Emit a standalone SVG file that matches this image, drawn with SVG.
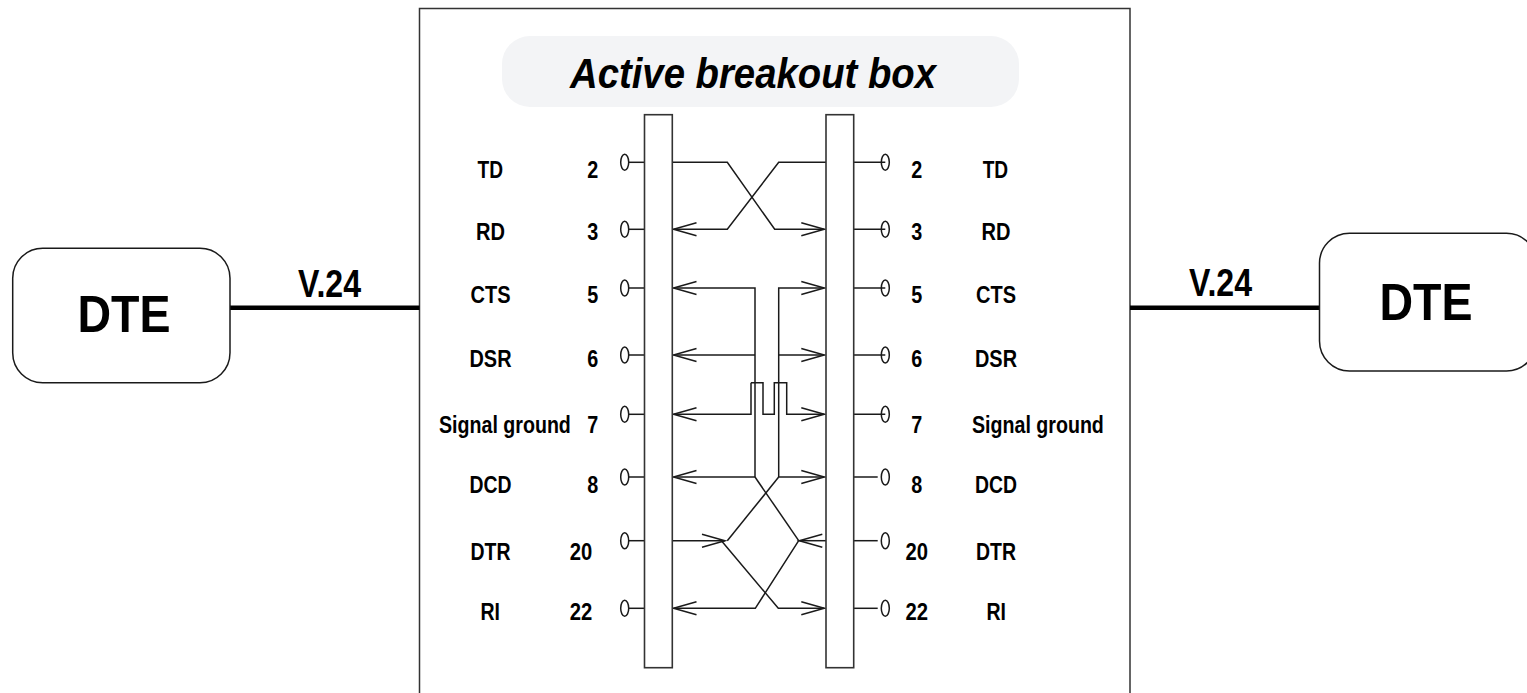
<svg xmlns="http://www.w3.org/2000/svg" width="1527" height="693" viewBox="0 0 1527 693">
<style>
text{font-family:"Liberation Sans",Arial,sans-serif;font-weight:bold;fill:#000}
.l{font-size:24px}
.v{font-size:39px}
.d{font-size:51px}
.t{font-size:42px;font-style:italic}
.w{fill:none;stroke:#1a1a1a;stroke-width:1.5}
.o{fill:#fff;stroke:#1a1a1a;stroke-width:1.5}
.bar{fill:#fff;stroke:#333;stroke-width:1.6}
.dte{fill:#fff;stroke:#1a1a1a;stroke-width:1.5}
.thick{fill:none;stroke:#000;stroke-width:4.5}
</style>
<defs>
<marker id="a" markerUnits="userSpaceOnUse" markerWidth="30" markerHeight="20" refX="25" refY="10" orient="auto" overflow="visible">
<path d="M2,3.5L25,10L2,16.5" fill="none" stroke="#1a1a1a" stroke-width="1.5"/>
</marker>
</defs>
<rect width="1527" height="693" fill="#fff"/>
<g id="active-breakout-box">
<path d="M419.5,693V8.5H1130V693" fill="none" stroke="#333" stroke-width="1.5"/>
<rect x="502" y="36" width="517" height="71" rx="28" fill="#f3f4f6"/>
<text class="t" x="570" y="88" textLength="366" lengthAdjust="spacingAndGlyphs">Active breakout box</text>
</g>
<g id="connectors">
<path class="thick" d="M230,307.7H419.5"/>
<path class="thick" d="M1130,307.7H1320"/>
<g id="stubs-left" class="w">
<path d="M628.7,162.3H645"/><path d="M628.7,229.3H645"/><path d="M628.7,288H645"/><path d="M628.7,355H645"/><path d="M628.7,414.3H645"/><path d="M628.7,477H645"/><path d="M628.7,540.7H645"/><path d="M628.7,608.3H645"/>
</g>
<g id="stubs-right" class="w">
<path d="M853.7,162.3H885.3"/><path d="M853.7,229.3H885.3"/><path d="M853.7,288H885.3"/><path d="M853.7,355H885.3"/><path d="M853.7,414.3H885.3"/><path d="M853.7,477H877.7"/><path d="M853.7,540.7H877.7"/><path d="M853.7,608.3H877.7"/>
</g>
<g id="wires">
<path class="w" marker-end="url(#a)" d="M672.3,162.3H727.3L774.7,229.3H824.3"/>
<path class="w" marker-end="url(#a)" d="M826,162.3H778.7L727.3,229.3H673.5"/>
<path class="w" marker-end="url(#a)" d="M755,477V288H673.5"/>
<path class="w" marker-end="url(#a)" d="M755,355H673.5"/>
<path class="w" marker-end="url(#a)" d="M778.7,477V288H824.3"/>
<path class="w" marker-end="url(#a)" d="M778.7,355H824.3"/>
<path class="w" marker-end="url(#a)" d="M751,382.7V414.3H673.5"/>
<path class="w" marker-end="url(#a)" d="M751,382.7H763V414.3H774.3V382.7H786.7V414.3H824.3"/>
<path class="w" marker-end="url(#a)" d="M755,477H673.5"/>
<path class="w" marker-end="url(#a)" d="M778.7,477H824.3"/>
<path class="w" d="M755,477L798.7,540.7"/>
<path class="w" marker-end="url(#a)" d="M826,540.7H799.3"/>
<path class="w" marker-end="url(#a)" d="M798.7,540.7L755.3,608.3H673.5"/>
<path class="w" d="M778.7,477L727.3,540.7"/>
<path class="w" marker-end="url(#a)" d="M672.3,540.7H725"/>
<path class="w" marker-end="url(#a)" d="M721,540.2L778.3,608.3H824.3"/>
</g>
</g>
<g id="dte-left">
<rect class="dte" x="12.7" y="248.3" width="217.3" height="134.4" rx="30"/>
<text class="d" x="77.5" y="331.7" textLength="93" lengthAdjust="spacingAndGlyphs">DTE</text>
</g>
<g id="dte-right">
<rect class="dte" x="1319.5" y="233.3" width="217" height="137.7" rx="30"/>
<text class="d" x="1379.5" y="320" textLength="93" lengthAdjust="spacingAndGlyphs">DTE</text>
</g>
<text id="v24-left" class="v" x="298" y="296.7" textLength="63" lengthAdjust="spacingAndGlyphs">V.24</text>
<text id="v24-right" class="v" x="1189" y="296" textLength="63" lengthAdjust="spacingAndGlyphs">V.24</text>
<g id="connector-left">
<rect class="bar" x="644.5" y="114.7" width="27.8" height="553"/>
<ellipse class="o" cx="624.7" cy="162.3" rx="4" ry="8"/><ellipse class="o" cx="624.7" cy="229.3" rx="4" ry="8"/><ellipse class="o" cx="624.7" cy="288" rx="4" ry="8"/><ellipse class="o" cx="624.7" cy="355" rx="4" ry="8"/><ellipse class="o" cx="624.7" cy="414.3" rx="4" ry="8"/><ellipse class="o" cx="624.7" cy="477" rx="4" ry="8"/><ellipse class="o" cx="624.7" cy="540.7" rx="4" ry="8"/><ellipse class="o" cx="624.7" cy="608.3" rx="4" ry="8"/>
</g>
<g id="connector-right">
<rect class="bar" x="826" y="114.7" width="27.7" height="553"/>
<g fill="none" stroke="#1a1a1a" stroke-width="1.5">
<ellipse cx="885.3" cy="162.3" rx="4" ry="8"/><ellipse cx="885.3" cy="229.3" rx="4" ry="8"/><ellipse cx="885.3" cy="288" rx="4" ry="8"/><ellipse cx="885.3" cy="355" rx="4" ry="8"/><ellipse cx="885.3" cy="414.3" rx="4" ry="8"/><ellipse cx="885.3" cy="477" rx="4" ry="8"/><ellipse cx="885.3" cy="540.7" rx="4" ry="8"/><ellipse cx="885.3" cy="608.3" rx="4" ry="8"/>
</g>
</g>
<g id="labels-left" class="l">
<text class="l" x="477.5" y="178.3" textLength="25.5" lengthAdjust="spacingAndGlyphs">TD</text>
<text class="l" x="476" y="240" textLength="29" lengthAdjust="spacingAndGlyphs">RD</text>
<text class="l" x="470.5" y="303.3" textLength="40" lengthAdjust="spacingAndGlyphs">CTS</text>
<text class="l" x="469.5" y="367.3" textLength="42" lengthAdjust="spacingAndGlyphs">DSR</text>
<text class="l" transform="translate(439 433.3) scale(.818 1)">Signal ground</text>
<text class="l" x="469.5" y="492.7" textLength="42" lengthAdjust="spacingAndGlyphs">DCD</text>
<text class="l" x="470.5" y="560" textLength="40" lengthAdjust="spacingAndGlyphs">DTR</text>
<text class="l" x="480.5" y="620" textLength="19.5" lengthAdjust="spacingAndGlyphs">RI</text>
<text class="l" x="587.3" y="178.3" textLength="11" lengthAdjust="spacingAndGlyphs">2</text>
<text class="l" x="587.3" y="240" textLength="11" lengthAdjust="spacingAndGlyphs">3</text>
<text class="l" x="587.3" y="303.3" textLength="11" lengthAdjust="spacingAndGlyphs">5</text>
<text class="l" x="587.3" y="367.3" textLength="11" lengthAdjust="spacingAndGlyphs">6</text>
<text class="l" x="587.3" y="433.3" textLength="11" lengthAdjust="spacingAndGlyphs">7</text>
<text class="l" x="587.3" y="492.7" textLength="11" lengthAdjust="spacingAndGlyphs">8</text>
<text class="l" x="569.8" y="560" textLength="22.5" lengthAdjust="spacingAndGlyphs">20</text>
<text class="l" x="569.8" y="620" textLength="22.5" lengthAdjust="spacingAndGlyphs">22</text>
</g>
<g id="labels-right" class="l">
<text class="l" x="911.3" y="178.3" textLength="11" lengthAdjust="spacingAndGlyphs">2</text>
<text class="l" x="911.3" y="240" textLength="11" lengthAdjust="spacingAndGlyphs">3</text>
<text class="l" x="911.3" y="303.3" textLength="11" lengthAdjust="spacingAndGlyphs">5</text>
<text class="l" x="911.3" y="367.3" textLength="11" lengthAdjust="spacingAndGlyphs">6</text>
<text class="l" x="911.3" y="433.3" textLength="11" lengthAdjust="spacingAndGlyphs">7</text>
<text class="l" x="911.3" y="492.7" textLength="11" lengthAdjust="spacingAndGlyphs">8</text>
<text class="l" x="905.5" y="560" textLength="22.5" lengthAdjust="spacingAndGlyphs">20</text>
<text class="l" x="905.5" y="620" textLength="22.5" lengthAdjust="spacingAndGlyphs">22</text>
<text class="l" x="982.7" y="178.3" textLength="25.5" lengthAdjust="spacingAndGlyphs">TD</text>
<text class="l" x="981.5" y="240" textLength="29" lengthAdjust="spacingAndGlyphs">RD</text>
<text class="l" x="976" y="303.3" textLength="40" lengthAdjust="spacingAndGlyphs">CTS</text>
<text class="l" x="975" y="367.3" textLength="42" lengthAdjust="spacingAndGlyphs">DSR</text>
<text class="l" transform="translate(972 433.3) scale(.818 1)">Signal ground</text>
<text class="l" x="975" y="492.7" textLength="42" lengthAdjust="spacingAndGlyphs">DCD</text>
<text class="l" x="976" y="560" textLength="40" lengthAdjust="spacingAndGlyphs">DTR</text>
<text class="l" x="986.5" y="620" textLength="19.5" lengthAdjust="spacingAndGlyphs">RI</text>
</g>
</svg>
